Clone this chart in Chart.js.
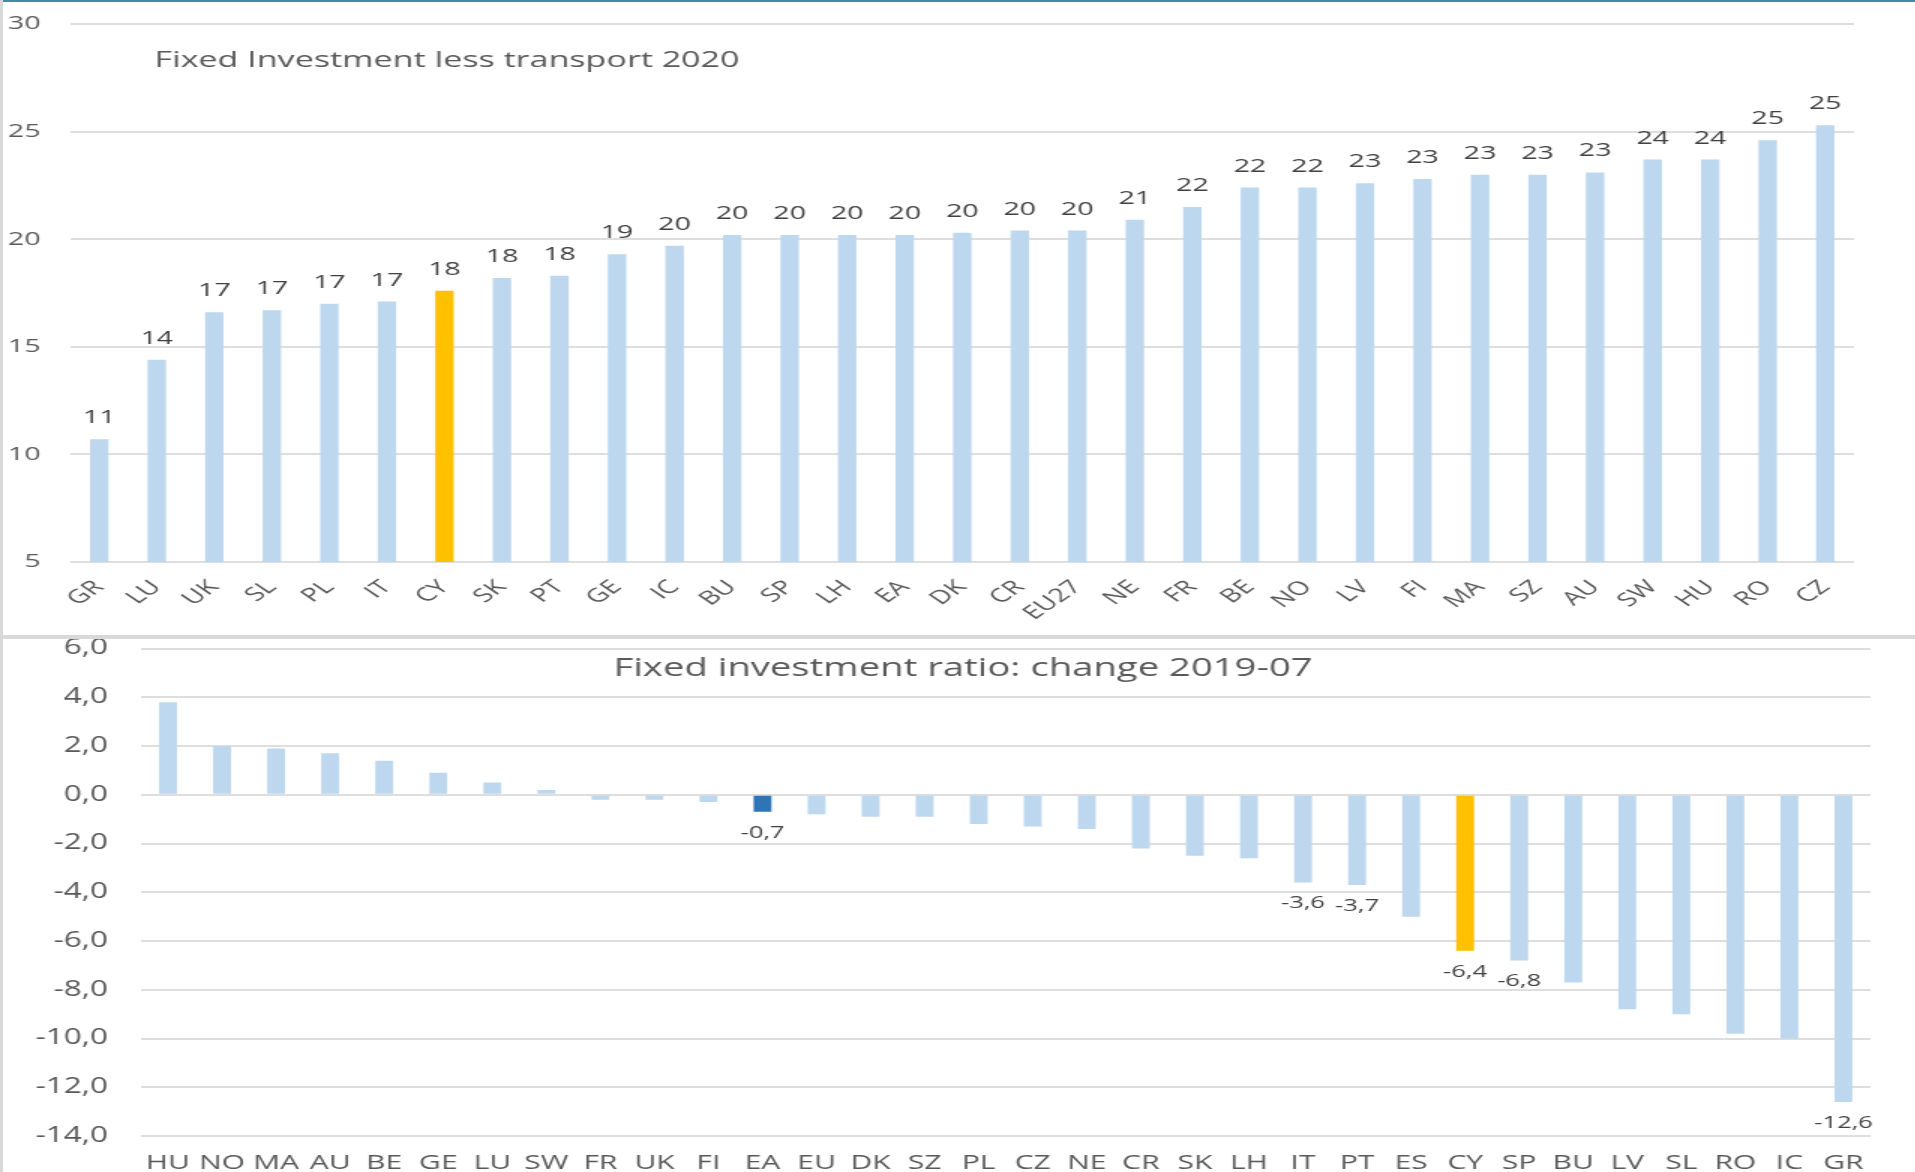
<!DOCTYPE html>
<html>
<head>
<meta charset="utf-8">
<script src="https://cdn.jsdelivr.net/npm/chart.js@4.4.1/dist/chart.umd.min.js"></script>
<style>
  html, body { margin: 0; padding: 0; background: #fff; }
  body { width: 1915px; height: 1172px; position: relative; overflow: hidden; }
  .edge-top { position: absolute; left: 0; top: 0; width: 1915px; height: 2px; background: #3d8ea3; }
  .edge-left { position: absolute; left: 0; top: 0; width: 3px; height: 1172px; background: #d9d9d9; }
  .divider { position: absolute; left: 0; top: 635px; width: 1915px; height: 4px; background: #d9d9d9; }
  /* the source picture is stretched sideways, so the canvases are too */
  .panel { position: absolute; left: 3px; transform-origin: 0 0; transform: scaleX(1.5); }
  #topPanel { top: 2px; }
  #bottomPanel { top: 639px; }
</style>
</head>
<body>
<div class="edge-top"></div>
<div class="edge-left"></div>
<div class="divider"></div>
<div class="panel" id="topPanel"><canvas id="levelChart" width="1275" height="633"></canvas></div>
<div class="panel" id="bottomPanel"><canvas id="changeChart" width="1275" height="533"></canvas></div>

<script>
// ---------------- Data ----------------
const levelCountries = ["GR", "LU", "UK", "SL", "PL", "IT", "CY", "SK", "PT", "GE", "IC", "BU", "SP", "LH", "EA", "DK",
  "CR", "EU27", "NE", "FR", "BE", "NO", "LV", "FI", "MA", "SZ", "AU", "SW", "HU", "RO", "CZ"];
const levelValues = [10.7, 14.4, 16.6, 16.7, 17.0, 17.1, 17.6, 18.2, 18.3, 19.3, 19.7, 20.2, 20.2, 20.2, 20.2, 20.3,
  20.4, 20.4, 20.9, 21.5, 22.4, 22.4, 22.6, 22.8, 23.0, 23.0, 23.1, 23.7, 23.7, 24.6, 25.3];
const levelTicks = [5, 10, 15, 20, 25, 30];

const changeCountries = ["HU", "NO", "MA", "AU", "BE", "GE", "LU", "SW", "FR", "UK", "FI", "EA", "EU", "DK", "SZ", "PL",
  "CZ", "NE", "CR", "SK", "LH", "IT", "PT", "ES", "CY", "SP", "BU", "LV", "SL", "RO", "IC", "GR"];
const changeValues = [3.8, 2.0, 1.9, 1.7, 1.4, 0.9, 0.5, 0.2, -0.2, -0.2, -0.3, -0.7, -0.8, -0.9, -0.9, -1.2,
  -1.3, -1.4, -2.2, -2.5, -2.6, -3.6, -3.7, -5.0, -6.4, -6.8, -7.7, -8.8, -9.0, -9.8, -10.0, -12.6];
const changeTicks = [6, 4, 2, 0, -2, -4, -6, -8, -10, -12, -14];
const changeLabelled = ["EA", "IT", "PT", "CY", "SP", "GR"];

// ---------------- Style ----------------
const FONT = "'Open Sans', sans-serif";
const AXIS_TEXT = "#595959";
const VALUE_TEXT = "#404040";
const GRID = "#dedede";
const BLUE = "#bdd7ee";
const ORANGE = "#ffc000";
const DARK_BLUE = "#2e75b6";

const commaNum = (v) => v.toFixed(1).replace(".", ",");

// value labels drawn next to the bar ends
function valueLabels(show, format, above, gap, size) {
  return {
    id: "valueLabels",
    afterDatasetsDraw(chart) {
      const ctx = chart.ctx;
      const meta = chart.getDatasetMeta(0);
      const labels = chart.data.labels;
      const values = chart.data.datasets[0].data;
      ctx.save();
      ctx.font = `${size}px ${FONT}`;
      ctx.fillStyle = VALUE_TEXT;
      ctx.textAlign = "center";
      ctx.textBaseline = above ? "alphabetic" : "middle";
      meta.data.forEach((bar, i) => {
        if (!show(labels[i])) return;
        ctx.fillText(format(values[i]), bar.x, above ? bar.y - gap : bar.y + gap);
      });
      ctx.restore();
    },
  };
}

// title sitting inside the plot area
function panelTitle(text, dx, dy, size) {
  return {
    id: "panelTitle",
    afterDraw(chart) {
      const { ctx, chartArea } = chart;
      ctx.save();
      ctx.font = `${size}px ${FONT}`;
      ctx.fillStyle = AXIS_TEXT;
      ctx.textAlign = "left";
      ctx.textBaseline = "middle";
      ctx.fillText(text, chartArea.left + dx, chartArea.top + dy);
      ctx.restore();
    },
  };
}

// ---------------- Top: level ----------------
new Chart(document.getElementById("levelChart"), {
  type: "bar",
  data: {
    labels: levelCountries,
    datasets: [
      {
        data: levelValues,
        backgroundColor: levelCountries.map((c) => (c === "CY" ? ORANGE : BLUE)),
        barPercentage: 0.32,
        categoryPercentage: 1,
      },
    ],
  },
  options: {
    responsive: false,
    animation: false,
    layout: { padding: { top: 22, right: 41, left: 0, bottom: 0 } },
    plugins: { legend: { display: false }, tooltip: { enabled: false } },
    scales: {
      x: {
        grid: { display: false },
        border: { display: false },
        ticks: {
          color: AXIS_TEXT,
          font: { family: FONT, size: 19 },
          minRotation: 45,
          maxRotation: 45,
          autoSkip: false,
          padding: 6,
        },
        afterFit: (s) => { s.height = 73; },
      },
      y: {
        min: 5,
        max: 30,
        border: { display: false },
        grid: { color: GRID, lineWidth: 2, drawTicks: false },
        ticks: { color: AXIS_TEXT, font: { family: FONT, size: 19 }, padding: 20 },
        afterBuildTicks: (s) => { s.ticks = levelTicks.map((v) => ({ value: v })); },
        afterFit: (s) => { s.width = 45; s.paddingTop = 0; s.paddingBottom = 0; },
      },
    },
  },
  plugins: [
    valueLabels(() => true, (v) => String(Math.round(v)), true, 16, 19),
    panelTitle("Fixed Investment less transport 2020", 56, 37, 22.7),
  ],
});

// ---------------- Bottom: change ----------------
new Chart(document.getElementById("changeChart"), {
  type: "bar",
  data: {
    labels: changeCountries,
    datasets: [
      {
        data: changeValues,
        backgroundColor: changeCountries.map((c) => (c === "CY" ? ORANGE : c === "EA" ? DARK_BLUE : BLUE)),
        barPercentage: 0.33,
        categoryPercentage: 1,
      },
    ],
  },
  options: {
    responsive: false,
    animation: false,
    layout: { padding: { top: 9.5, right: 30, left: 0, bottom: 0 } },
    plugins: { legend: { display: false }, tooltip: { enabled: false } },
    scales: {
      x: {
        grid: { display: false },
        border: { display: false },
        ticks: {
          color: AXIS_TEXT,
          font: { family: FONT, size: 20 },
          minRotation: 0,
          maxRotation: 0,
          autoSkip: false,
          padding: 7,
        },
        afterFit: (s) => { s.height = 36; },
      },
      y: {
        min: -14,
        max: 6,
        border: { display: false },
        grid: { color: GRID, lineWidth: 2, drawTicks: false },
        ticks: { color: AXIS_TEXT, font: { family: FONT, size: 21 }, padding: 22, callback: (v) => commaNum(v) },
        afterBuildTicks: (s) => { s.ticks = changeTicks.map((v) => ({ value: v })); },
        afterFit: (s) => { s.width = 92; s.paddingTop = 0; s.paddingBottom = 0; },
      },
    },
  },
  plugins: [
    valueLabels((c) => changeLabelled.includes(c), commaNum, false, 21, 17),
    panelTitle("Fixed investment ratio: change 2019-07", 315, 20.5, 25.5),
  ],
});
</script>
</body>
</html>
